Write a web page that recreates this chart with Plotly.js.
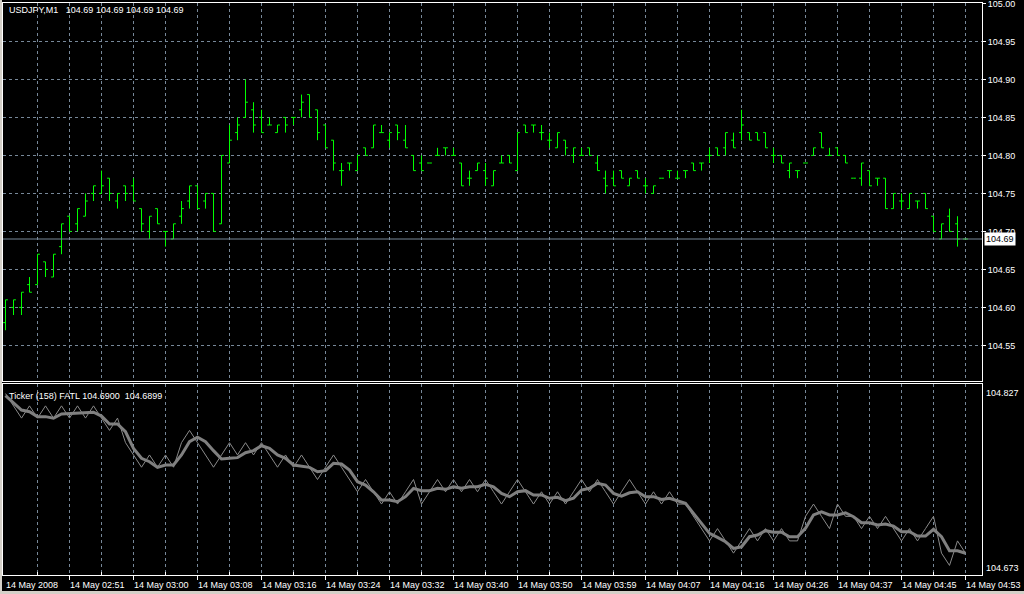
<!DOCTYPE html>
<html>
<head>
<meta charset="utf-8">
<script src="https://cdn.plot.ly/plotly-3.0.1.min.js"></script>
<style>
html,body{margin:0;padding:0;background:#d4d0c8;width:1024px;height:594px;overflow:hidden;}
#chart{position:absolute;left:2px;top:0;width:1022px;height:591px;background:#000;}
</style>
</head>
<body>
<div id="chart"></div>
<script>
// ---- Main pane: USDJPY M1 OHLC bars ----
const openP = [104.58,104.60,104.60,104.63,104.63,104.66,104.64,104.68,104.72,104.71,
104.72,104.75,104.75,104.77,104.74,104.76,104.76,104.73,104.70,104.73,
104.70,104.69,104.72,104.74,104.76,104.74,104.75,104.71,104.79,104.83,
104.85,104.86,104.85,104.84,104.83,104.85,104.85,104.86,104.88,104.86,
104.84,104.82,104.78,104.79,104.78,104.81,104.81,104.83,104.82,104.84,
104.82,104.80,104.79,104.79,104.80,104.81,104.80,104.79,104.77,104.78,
104.78,104.76,104.79,104.80,104.78,104.84,104.84,104.83,104.82,104.81,
104.82,104.80,104.80,104.81,104.79,104.77,104.77,104.78,104.76,104.78,
104.76,104.75,104.77,104.78,104.77,104.78,104.79,104.79,104.80,104.81,
104.81,104.82,104.83,104.83,104.83,104.83,104.80,104.80,104.78,104.78,
104.79,104.80,104.83,104.80,104.81,104.80,104.77,104.77,104.78,104.77,
104.77,104.73,104.74,104.73,104.74,104.75,104.72,104.69,104.72,104.71,
104.69];
const highP = [104.61,104.61,104.62,104.64,104.67,104.66,104.67,104.71,104.72,104.73,
104.75,104.76,104.78,104.77,104.75,104.76,104.77,104.73,104.72,104.73,
104.70,104.71,104.74,104.76,104.76,104.75,104.75,104.80,104.84,104.85,
104.90,104.87,104.86,104.85,104.84,104.85,104.85,104.88,104.88,104.86,
104.84,104.82,104.79,104.79,104.80,104.81,104.84,104.84,104.83,104.84,
104.84,104.80,104.80,104.79,104.81,104.81,104.81,104.79,104.78,104.79,
104.79,104.78,104.80,104.80,104.83,104.84,104.84,104.84,104.83,104.83,
104.82,104.81,104.81,104.81,104.80,104.78,104.78,104.78,104.77,104.78,
104.77,104.76,104.77,104.78,104.78,104.78,104.79,104.79,104.81,104.81,
104.83,104.83,104.86,104.83,104.83,104.83,104.81,104.80,104.79,104.78,
104.79,104.81,104.83,104.81,104.81,104.80,104.77,104.79,104.78,104.77,
104.77,104.75,104.75,104.75,104.74,104.75,104.72,104.71,104.73,104.72,
104.69];
const lowP = [104.57,104.59,104.59,104.62,104.63,104.64,104.64,104.67,104.70,104.70,
104.72,104.74,104.75,104.74,104.73,104.74,104.74,104.70,104.69,104.71,
104.68,104.69,104.71,104.73,104.73,104.73,104.70,104.71,104.79,104.82,
104.85,104.83,104.83,104.84,104.83,104.83,104.84,104.85,104.85,104.82,
104.81,104.78,104.76,104.78,104.78,104.80,104.81,104.83,104.81,104.82,
104.81,104.78,104.78,104.79,104.80,104.80,104.80,104.76,104.76,104.78,
104.76,104.76,104.79,104.79,104.78,104.83,104.83,104.82,104.81,104.81,
104.80,104.79,104.80,104.80,104.78,104.75,104.76,104.77,104.76,104.77,
104.75,104.75,104.77,104.77,104.77,104.77,104.78,104.78,104.79,104.80,
104.80,104.81,104.82,104.82,104.82,104.81,104.79,104.79,104.77,104.77,
104.79,104.80,104.81,104.80,104.80,104.79,104.77,104.76,104.76,104.76,
104.73,104.73,104.73,104.73,104.73,104.73,104.70,104.69,104.70,104.68,
104.69];
const closeP = [104.61,104.61,104.62,104.62,104.67,104.65,104.67,104.71,104.70,104.73,
104.74,104.76,104.76,104.75,104.75,104.75,104.74,104.71,104.72,104.71,
104.70,104.71,104.73,104.76,104.73,104.75,104.70,104.80,104.82,104.84,
104.87,104.84,104.83,104.84,104.84,104.84,104.85,104.87,104.85,104.83,
104.81,104.79,104.78,104.79,104.80,104.80,104.84,104.83,104.83,104.83,
104.81,104.78,104.78,104.79,104.80,104.81,104.80,104.76,104.77,104.79,
104.77,104.78,104.79,104.79,104.83,104.83,104.84,104.83,104.82,104.83,
104.81,104.81,104.80,104.80,104.78,104.76,104.76,104.77,104.77,104.77,
104.76,104.76,104.77,104.78,104.77,104.78,104.78,104.79,104.80,104.80,
104.83,104.81,104.84,104.82,104.82,104.81,104.80,104.79,104.79,104.78,
104.79,104.81,104.81,104.80,104.80,104.79,104.77,104.79,104.76,104.77,
104.73,104.75,104.74,104.75,104.74,104.73,104.70,104.71,104.70,104.69,
104.69];

// ---- Lower pane: Ticker (thin) and FATL (thick) ----
const ticker = [104.82,104.81,104.80,104.81,104.80,104.81,104.80,104.81,104.80,104.81,
104.80,104.81,104.80,104.79,104.80,104.78,104.77,104.76,104.77,104.76,
104.77,104.76,104.78,104.79,104.78,104.77,104.76,104.77,104.78,104.77,
104.78,104.77,104.78,104.77,104.76,104.77,104.76,104.77,104.76,104.75,
104.76,104.77,104.76,104.75,104.74,104.75,104.74,104.73,104.74,104.73,
104.74,104.75,104.73,104.74,104.75,104.74,104.75,104.74,104.75,104.74,
104.75,104.74,104.73,104.74,104.75,104.74,104.73,104.74,104.73,104.74,
104.73,104.74,104.75,104.74,104.75,104.74,104.73,104.74,104.75,104.74,
104.73,104.74,104.73,104.74,104.73,104.73,104.72,104.71,104.70,104.71,
104.70,104.69,104.70,104.71,104.70,104.71,104.70,104.71,104.70,104.70,
104.72,104.73,104.72,104.71,104.73,104.72,104.72,104.71,104.72,104.71,
104.72,104.71,104.70,104.71,104.70,104.71,104.72,104.69,104.68,104.70,
104.69];
const fatl = [104.8183,104.8121,104.8066,104.8052,104.8012,104.8012,104.7999,104.8034,104.8039,104.8039,
104.8048,104.8048,104.8017,104.7952,104.7952,104.7889,104.7754,104.7673,104.7645,104.7599,
104.7618,104.7618,104.7700,104.7808,104.7844,104.7808,104.7735,104.7667,104.7673,104.7678,
104.7718,104.7735,104.7775,104.7754,104.7700,104.7673,104.7618,104.7610,104.7599,104.7563,
104.7572,104.7632,104.7626,104.7577,104.7482,104.7455,104.7400,104.7333,104.7333,104.7319,
104.7360,104.7428,104.7409,104.7409,104.7428,104.7420,104.7441,104.7428,104.7441,104.7441,
104.7461,104.7441,104.7387,104.7360,104.7400,104.7409,104.7374,104.7374,104.7347,104.7355,
104.7327,104.7347,104.7414,104.7428,104.7469,104.7455,104.7387,104.7365,104.7392,104.7400,
104.7360,104.7360,104.7338,104.7347,104.7329,104.7306,104.7224,104.7143,104.7061,104.7029,
104.6993,104.6939,104.6952,104.7034,104.7048,104.7083,104.7070,104.7070,104.7034,104.7034,
104.7102,104.7211,104.7237,104.7211,104.7211,104.7229,104.7197,104.7148,104.7148,104.7129,
104.7137,104.7121,104.7074,104.7074,104.7039,104.7039,104.7094,104.7034,104.6920,104.6920,
104.6899];

// ---- Axis labels ----
const timeLabels = ["14 May 2008","14 May 02:51","14 May 03:00","14 May 03:08","14 May 03:16",
"14 May 03:24","14 May 03:32","14 May 03:40","14 May 03:50","14 May 03:59","14 May 04:07",
"14 May 04:16","14 May 04:26","14 May 04:37","14 May 04:45","14 May 04:53"];
const priceTicks = [104.55,104.60,104.65,104.70,104.75,104.80,104.85,104.90,104.95,105.00];
const subScale = [104.673, 104.827];
const symbolText = "USDJPY,M1";
const tickerName = "Ticker (158) FATL";

const N = openP.length;
const xs = Array.from({length:N}, (_, i) => i);
const LABEL_STEP = 8, GRID_STEP = 4;
const majorVals = timeLabels.map((_, k) => k*LABEL_STEP);
const gridVals = []; for (let v = GRID_STEP; v <= (N-1); v += GRID_STEP) gridVals.push(v);
const minorVals = gridVals.filter(v => v % LABEL_STEP !== 0);
const majorGrid = gridVals.filter(v => v % LABEL_STEP === 0);

const GRID = '#778899';
const DASH = '3px,3px';
const FONT = 'Liberation Sans, Arial, sans-serif';
const last = closeP[N-1];
const xr = [-0.3125, 122.0625];

const traces = [
  {type:'ohlc', x:xs, open:openP, high:highP, low:lowP, close:closeP,
   xaxis:'x2', yaxis:'y', tickwidth:0.3, hoverinfo:'skip',
   increasing:{line:{color:'#00ff00', width:1}},
   decreasing:{line:{color:'#00ff00', width:1}}},
  {type:'scatter', mode:'lines', x:xs, y:ticker, xaxis:'x', yaxis:'y2',
   line:{color:'#8a8a8a', width:1}, hoverinfo:'skip'},
  {type:'scatter', mode:'lines', x:xs, y:fatl, xaxis:'x', yaxis:'y2',
   line:{color:'#808080', width:3}, hoverinfo:'skip'}
];

const pxH = 572;
const annotations = [];
timeLabels.forEach((t, k) => {
  annotations.push({text:t, xref:'x', x:majorVals[k], xanchor:'left', xshift:-2,
    yref:'paper', y:-10/pxH, yanchor:'middle', showarrow:false,
    font:{family:FONT, size:9, color:'#ffffff'}});
});
annotations.push({text:symbolText + '\u00a0\u00a0 ' + [openP[N-1],highP[N-1],lowP[N-1],closeP[N-1]].map(v=>v.toFixed(2)).join(' '),
  xref:'paper', x:0, xanchor:'left', xshift:4, yref:'paper', y:1, yanchor:'middle', yshift:-7,
  showarrow:false, font:{family:FONT, size:9, color:'#ffffff'}});
annotations.push({text:tickerName + ' ' + ticker[N-1].toFixed(4) + '\u00a0\u00a0' + fatl[N-1].toFixed(4),
  xref:'paper', x:0, xanchor:'left', xshift:4, yref:'paper', y:(575-395.5)/pxH, yanchor:'middle',
  showarrow:false, font:{family:FONT, size:9, color:'#ffffff'}});
annotations.push({text:last.toFixed(2), xref:'paper', x:1, xanchor:'left', xshift:2,
  yref:'y', y:last, yanchor:'middle', showarrow:false, bgcolor:'#ffffff', borderpad:1,
  font:{family:FONT, size:9, color:'#000000'}});
annotations.push({text:subScale[1].toFixed(3), xref:'paper', x:1, xanchor:'left', xshift:2,
  yref:'y2', y:subScale[1], yanchor:'middle', yshift:-8, showarrow:false,
  font:{family:FONT, size:9, color:'#ffffff'}});
annotations.push({text:subScale[0].toFixed(3), xref:'paper', x:1, xanchor:'left', xshift:2,
  yref:'y2', y:subScale[0], yanchor:'middle', yshift:6, showarrow:false,
  font:{family:FONT, size:9, color:'#ffffff'}});

const layout = {
  width:1022, height:591,
  paper_bgcolor:'#000000', plot_bgcolor:'#000000',
  margin:{l:1, r:42, t:3, b:16, pad:0},
  showlegend:false,
  font:{family:FONT, size:9, color:'#ffffff'},
  xaxis:{domain:[0,1], anchor:'y2', range:xr, fixedrange:true,
    tickmode:'array', tickvals:majorGrid, ticks:'outside', ticklen:4, tickcolor:'#ffffff',
    showticklabels:false, showgrid:true, gridcolor:GRID, griddash:DASH, gridwidth:1,
    showline:true, linecolor:'#ffffff', linewidth:1, mirror:true, zeroline:false,
    minor:{tickmode:'array', tickvals:minorVals, ticks:'inside', ticklen:3, tickcolor:'#ffffff',
      showgrid:true, gridcolor:GRID, griddash:DASH, gridwidth:1},
    rangeslider:{visible:false}},
  xaxis2:{domain:[0,1], anchor:'y', range:xr, fixedrange:true,
    tickmode:'array', tickvals:gridVals, ticks:'', showticklabels:false,
    showgrid:true, gridcolor:GRID, griddash:DASH, gridwidth:1,
    showline:true, linecolor:'#ffffff', linewidth:1, mirror:true, zeroline:false,
    rangeslider:{visible:false}},
  yaxis:{domain:[(575-381)/pxH, 1], anchor:'x2', range:[104.5032, 105.0005], side:'right', fixedrange:true,
    tickmode:'array', tickvals:priceTicks, ticktext:priceTicks.map(v=>v.toFixed(2)),
    ticks:'outside', ticklen:3, tickcolor:'#ffffff', ticklabeloverflow:'allow',
    tickfont:{family:FONT, size:9, color:'#ffffff'},
    showgrid:true, gridcolor:GRID, griddash:DASH, gridwidth:1,
    showline:true, linecolor:'#ffffff', linewidth:1, mirror:true, zeroline:false},
  yaxis2:{domain:[0, (575-384)/pxH], anchor:'x', range:[104.6722, 104.8278], side:'right', fixedrange:true,
    showticklabels:false, ticks:'', showgrid:false,
    showline:true, linecolor:'#ffffff', linewidth:1, mirror:true, zeroline:false},
  shapes:[{type:'line', xref:'paper', x0:0, x1:1, yref:'y', y0:last, y1:last,
    line:{color:GRID, width:1}}],
  annotations:annotations
};

Plotly.newPlot('chart', traces, layout, {staticPlot:true, displayModeBar:false});
</script>
</body>
</html>
